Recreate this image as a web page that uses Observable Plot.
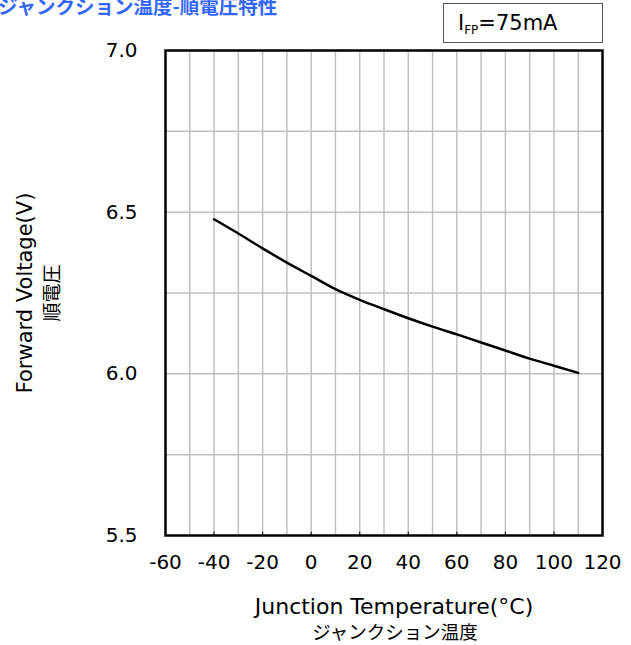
<!DOCTYPE html>
<html>
<head>
<meta charset="utf-8">
<script src="https://cdn.jsdelivr.net/npm/d3@7"></script>
<script src="https://cdn.jsdelivr.net/npm/@observablehq/plot@0.6"></script>
<style>
  html, body { margin: 0; padding: 0; background: #fff; }
  #wrap { position: relative; width: 631px; height: 645px; overflow: hidden; font-family: "DejaVu Sans", Verdana, sans-serif; }
  #title { position: absolute; left: -2px; top: -9px; color: #3366ff; font-weight: bold; font-size: 19.5px; font-family: "Noto Sans CJK JP", sans-serif; white-space: nowrap; }
  #legend { position: absolute; left: 443px; top: 3px; width: 160px; height: 40px; border: 1px solid #555; box-sizing: border-box; font-size: 21px; line-height: 38px; padding-left: 14px; color: #000; white-space: nowrap; }
  #legend sub { font-size: 12px; vertical-align: baseline; position: relative; top: 4px; }
</style>
</head>
<body>
<div id="wrap">
  <div id="title">ジャンクション温度-順電圧特性</div>
  <div id="legend">I<sub>FP</sub>=75mA</div>
</div>
<script>
const temperature = [-40, -30, -20, -10, 0, 10, 20, 30, 40, 50, 60, 70, 80, 90, 100, 110];
const voltage = [6.478, 6.434, 6.388, 6.344, 6.303, 6.262, 6.229, 6.200, 6.172, 6.146, 6.122, 6.097, 6.072, 6.047, 6.025, 6.003];
const xTicks = [-60, -40, -20, 0, 20, 40, 60, 80, 100, 120];
const xGrid = [-50, -40, -30, -20, -10, 0, 10, 20, 30, 40, 50, 60, 70, 80, 90, 100, 110];
const yTicks = [5.5, 6.0, 6.5, 7.0];
const yGrid = [5.75, 6.0, 6.25, 6.5, 6.75];
const xTitle = ["Junction Temperature(°C)", "ジャンクション温度"];
const yTitle = ["Forward Voltage(V)", "順電圧"];

const data = temperature.map((t, i) => ({t, v: voltage[i]}));
const font = "'DejaVu Sans', 'Noto Sans CJK JP', sans-serif";
const jp = "'Noto Sans CJK JP', sans-serif";

const chart = Plot.plot({
  width: 631,
  height: 645,
  marginLeft: 165,
  marginRight: 29,
  marginTop: 50,
  marginBottom: 110,
  style: {fontFamily: font, fontSize: "20px", background: "transparent", color: "#000"},
  x: {domain: [-60, 120], label: null},
  y: {domain: [5.5, 7.0], label: null},
  marks: [
    Plot.ruleX(xGrid, {stroke: "#c0c0c0", strokeWidth: 1.5}),
    Plot.ruleY(yGrid, {stroke: "#c0c0c0", strokeWidth: 1.5}),
    Plot.ruleX(xTicks.slice(1, -1), {y1: 5.5, y2: 5.51, stroke: "#000", strokeWidth: 1}),
    Plot.frame({stroke: "#000", strokeWidth: 2.5}),
    Plot.line(data, {x: "t", y: "v", curve: "monotone-x", stroke: "#000", strokeWidth: 2.5}),
    Plot.axisX({ticks: xTicks, tickSize: 0, tickPadding: 19, fontSize: 20, tickFormat: d => String(d)}),
    Plot.axisY({ticks: yTicks, tickSize: 0, tickPadding: 28, tickFormat: d => d.toFixed(1), fontSize: 20}),
    Plot.text([xTitle[0]], {frameAnchor: "bottom", dx: 10, dy: 78, fontSize: 22, text: d => d}),
    Plot.text([xTitle[1]], {frameAnchor: "bottom", dx: 11, dy: 103, fontSize: 18.5, fontFamily: jp, text: d => d}),
    Plot.text([yTitle[0]], {frameAnchor: "left", textAnchor: "middle", dx: -140, dy: 0, rotate: -90, fontSize: 21, text: d => d}),
    Plot.text([yTitle[1]], {frameAnchor: "left", textAnchor: "middle", dx: -113, dy: 0, rotate: -90, fontSize: 19, fontFamily: jp, text: d => d})
  ]
});
chart.style.position = "absolute";
chart.style.left = "0px";
chart.style.top = "0px";
document.getElementById("wrap").insertBefore(chart, document.getElementById("title"));
</script>
</body>
</html>
